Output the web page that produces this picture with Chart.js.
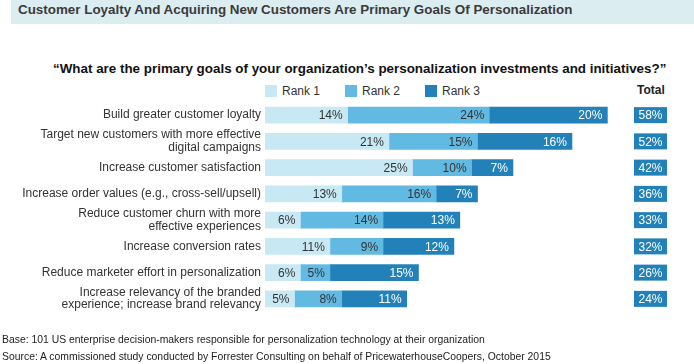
<!DOCTYPE html>
<html>
<head>
<meta charset="utf-8">
<script src="https://cdn.jsdelivr.net/npm/chart.js@4"></script>
<style>
  body { margin: 0; background: #fff; }
  #page { position: relative; width: 694px; height: 364px; overflow: hidden;
          font-family: "Liberation Sans", Arial, sans-serif; color: #333; }
  #page canvas { position: absolute; left: 0; top: 0; }
  .txt { position: absolute; white-space: nowrap; line-height: 14px; height: 14px; }
  #band { position: absolute; left: 11px; top: 0; width: 683px; height: 24px; background: #dcedf1; }
  #title { left: 18px; top: 3px; font-weight: bold; font-size: 13.4px; color: #3a3a3a; }
  #question { left: 53px; top: 62px; font-weight: bold; font-size: 13.4px; color: #111; }
  .swatch { position: absolute; top: 85px; width: 12px; height: 12px; }
  .legend { top: 84px; font-size: 12px; color: #333; }
  #total { left: 637px; top: 83px; font-weight: bold; font-size: 12px; color: #222; }
  .foot { left: 2px; font-size: 10.4px; color: #222; }
</style>
</head>
<body>
<div id="page">
  <div id="band"></div>
  <div class="txt" id="title">Customer Loyalty And Acquiring New Customers Are Primary Goals Of Personalization</div>
  <div class="txt" id="question">“What are the primary goals of your organization’s personalization investments and initiatives?”</div>
  <div id="legend"></div>
  <div class="txt" id="total">Total</div>
  <canvas id="chart" width="694" height="364"></canvas>
  <div class="txt foot" style="top:333px">Base: 101 US enterprise decision-makers responsible for personalization technology at their organization</div>
  <div class="txt foot" style="top:350px">Source: A commissioned study conducted by Forrester Consulting on behalf of PricewaterhouseCoopers, October 2015</div>
</div>
<script>
const goals = [
  "Build greater customer loyalty",
  ["Target new customers with more effective", "digital campaigns"],
  "Increase customer satisfaction",
  "Increase order values (e.g., cross-sell/upsell)",
  ["Reduce customer churn with more", "effective experiences"],
  "Increase conversion rates",
  "Reduce marketer effort in personalization",
  ["Increase relevancy of the branded", "experience; increase brand relevancy"]
];
const rank1 = [14, 21, 25, 13, 6, 11, 6, 5];
const rank2 = [24, 15, 10, 16, 14, 9, 5, 8];
const rank3 = [20, 16, 7, 7, 13, 12, 15, 11];
const totals = [58, 52, 42, 36, 33, 32, 26, 24];

const seriesNames = ["Rank 1", "Rank 2", "Rank 3"];
const colors = ["#c8e8f4", "#62b9e2", "#2381b9"];
const labelColors = ["#333", "#333", "#fff"];

// legend
const legendX = [265, 345, 425];
const legend = document.getElementById("legend");
seriesNames.forEach((name, i) => {
  let sw = document.createElement("div");
  sw.className = "swatch";
  sw.style.left = legendX[i] + "px";
  sw.style.background = colors[i];
  legend.appendChild(sw);

  let t = document.createElement("div");
  t.className = "txt legend";
  t.style.left = (legendX[i] + 17) + "px";
  t.innerText = name;
  legend.appendChild(t);
});

const FONT = '"Liberation Sans", Arial, sans-serif';

const barLabels = {
  id: "barLabels",
  afterDatasetsDraw(chart) {
    const ctx = chart.ctx;
    ctx.save();
    ctx.font = "12px " + FONT;
    ctx.textBaseline = "middle";

    // values inside segments
    chart.data.datasets.forEach((ds, di) => {
      ctx.fillStyle = labelColors[di];
      ctx.textAlign = "right";
      chart.getDatasetMeta(di).data.forEach((bar, i) => {
        ctx.fillText(ds.data[i] + "%", bar.x - 5, bar.y + 1);
      });
    });

    // total column
    const yScale = chart.scales.y;
    totals.forEach((v, i) => {
      const y = yScale.getPixelForValue(i);
      ctx.fillStyle = colors[2];
      ctx.fillRect(634, y - 8, 33, 16);
      ctx.fillStyle = "#fff";
      ctx.textAlign = "center";
      ctx.fillText(v + "%", 650.5, y + 1);
    });
    ctx.restore();
  }
};

new Chart(document.getElementById("chart"), {
  type: "bar",
  data: {
    labels: goals,
    datasets: [rank1, rank2, rank3].map((d, i) => ({
      label: seriesNames[i],
      data: d,
      backgroundColor: colors[i],
      borderWidth: 0,
      barThickness: 16
    }))
  },
  options: {
    indexAxis: "y",
    responsive: false,
    animation: false,
    layout: { padding: { top: 102, bottom: 52, left: 0, right: 63 } },
    plugins: {
      legend: { display: false },
      tooltip: { enabled: false }
    },
    scales: {
      x: {
        stacked: true,
        display: false,
        min: 0,
        max: 62
      },
      y: {
        stacked: true,
        grid: { display: false, drawTicks: false },
        border: { display: false },
        ticks: {
          color: "#333",
          padding: 4,
          autoSkip: false,
          font: { family: FONT, size: 12, lineHeight: 1.05 }
        },
        afterFit(scale) { scale.width = 265; }
      }
    }
  },
  plugins: [barLabels]
});
</script>
</body>
</html>
